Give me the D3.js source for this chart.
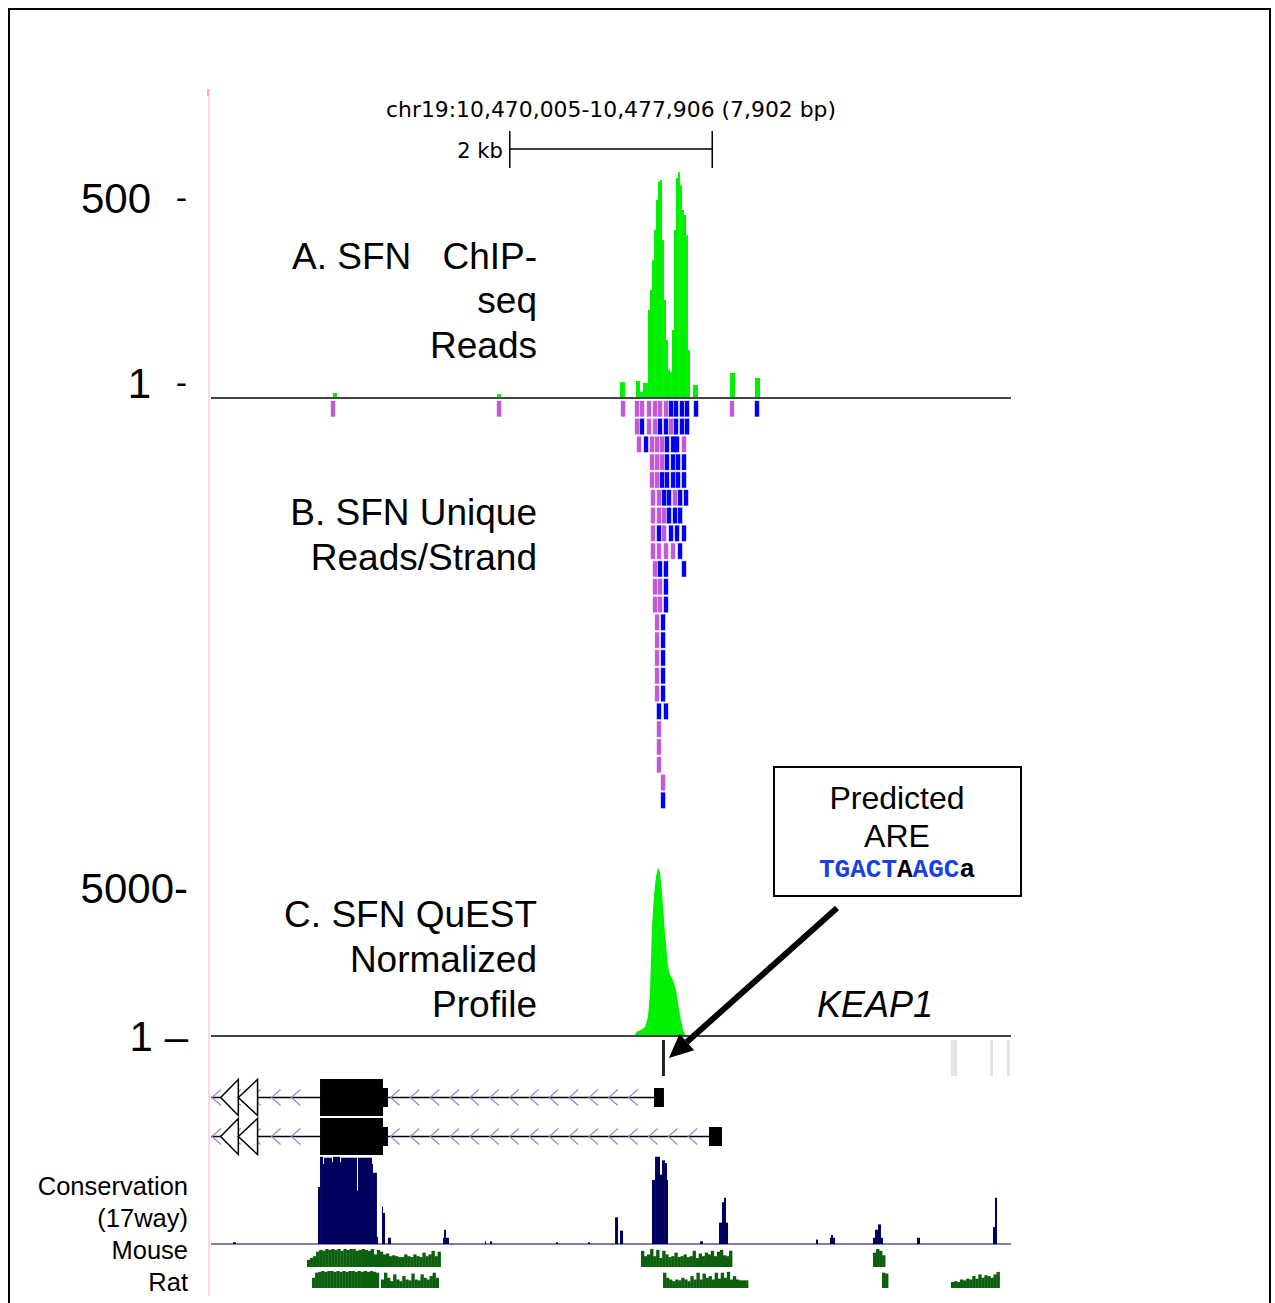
<!DOCTYPE html>
<html>
<head>
<meta charset="utf-8">
<script src="https://cdn.jsdelivr.net/npm/d3@7"></script>
<style>
  body { margin: 0; background: #fff; }
  text { font-family: "Liberation Sans", Arial, sans-serif; fill: #000; }
</style>
</head>
<body>
<svg id="chart" width="1275" height="1303"></svg>
<script>
// browser window chr19:10,470,005-10,477,906; all positions are bp offsets from the window start
const winStart = 10470005, winEnd = 10477906;

// A. ChIP-seq read coverage: [start, end, reads]
const chipCoverage = [
  [1205, 1245, 13], [2825, 2864, 10], [4040, 4089, 41], [4198, 4237, 44], [4237, 4267, 16],
  [4267, 4316, 39], [4316, 4336, 228], [4336, 4356, 280], [4356, 4376, 357], [4376, 4395, 435],
  [4395, 4415, 513], [4415, 4435, 560], [4435, 4455, 565], [4455, 4474, 409], [4474, 4494, 254],
  [4494, 4514, 150], [4514, 4534, 73], [4534, 4553, 67], [4553, 4573, 176], [4573, 4593, 435],
  [4593, 4613, 570], [4613, 4632, 585], [4632, 4652, 551], [4652, 4672, 487], [4672, 4692, 474],
  [4692, 4711, 422], [4711, 4731, 124], [4761, 4810, 34], [5126, 5176, 65], [5373, 5423, 52]
];
const chipTicks = [500, 1];
const chipTickLabels = ["500", "1"];

// B. unique reads per strand, one list per pileup row: [start, strand]
const readLength = 40;
const readRows = [
  [[1185,"-"],[2825,"-"],[4050,"-"],[4188,"-"],[4237,"-"],[4307,"-"],[4366,"-"],[4415,"-"],[4474,"-"],[4524,"+"],[4573,"+"],[4632,"+"],[4682,"+"],[4771,"+"],[5126,"-"],[5373,"+"]],
  [[4188,"-"],[4237,"+"],[4307,"-"],[4366,"-"],[4415,"+"],[4474,"+"],[4524,"-"],[4573,"+"],[4632,"+"],[4682,"+"]],
  [[4208,"-"],[4277,"+"],[4336,"-"],[4386,"-"],[4435,"-"],[4484,"+"],[4544,"+"],[4583,"+"],[4652,"-"]],
  [[4336,"-"],[4386,"-"],[4435,"-"],[4484,"+"],[4544,"+"],[4593,"+"],[4652,"+"]],
  [[4336,"-"],[4386,"-"],[4435,"+"],[4484,"+"],[4544,"+"],[4593,"+"],[4652,"+"]],
  [[4346,"-"],[4405,"-"],[4455,"+"],[4504,"+"],[4563,"-"],[4613,"+"],[4672,"+"]],
  [[4346,"-"],[4405,"-"],[4455,"-"],[4504,"+"],[4563,"+"],[4613,"+"]],
  [[4346,"-"],[4405,"+"],[4455,"-"],[4524,"+"],[4583,"+"],[4652,"+"]],
  [[4346,"-"],[4405,"-"],[4474,"-"],[4544,"-"],[4613,"+"]],
  [[4366,"-"],[4415,"+"],[4474,"+"],[4652,"+"]],
  [[4366,"-"],[4415,"-"],[4474,"+"]],
  [[4366,"-"],[4415,"-"],[4474,"+"]],
  [[4386,"-"],[4445,"+"]],
  [[4386,"-"],[4445,"+"]],
  [[4386,"-"],[4445,"+"]],
  [[4386,"-"],[4445,"+"]],
  [[4386,"-"],[4445,"+"]],
  [[4405,"+"],[4474,"+"]],
  [[4405,"-"]],
  [[4405,"-"]],
  [[4405,"-"]],
  [[4445,"-"]],
  [[4445,"+"]]
];

// C. QuEST normalized profile: [position, value]
const questProfile = [
  [4178, 0], [4208, 150], [4247, 200], [4287, 300], [4316, 640], [4336, 1450], [4356, 3690],
  [4376, 4770], [4395, 5380], [4415, 5680], [4435, 5540], [4455, 4830], [4484, 3480],
  [4514, 2330], [4534, 2060], [4563, 1890], [4593, 1550], [4613, 1115], [4632, 710],
  [4662, 200], [4692, 0]
];
const questTicks = [5000, 1];
const questTickLabels = ["5000-", "1 \u2013"];

// features above the gene (ARE site and others)
const siteFeatures = [
  { start: 4455, end: 4484, kind: "ARE" },
  { start: 7309, end: 7369, kind: "other" },
  { start: 7695, end: 7724, kind: "other" },
  { start: 7862, end: 7892, kind: "other" }
];

// KEAP1 transcripts (minus strand), both run off the left edge
const transcripts = [
  { start: -400, end: 4474, exons: [[1077, 1699, "cds"], [1699, 1748, "utr"], [4376, 4474, "utr"]] },
  { start: -400, end: 5047, exons: [[1077, 1699, "cds"], [1699, 1748, "utr"], [4919, 5047, "utr"]] }
];

// Conservation (17way): [start, end, score 0-1]
const conservation = [
  [217,247,.02],[1057,1077,.64],[1077,1106,.98],[1106,1116,.9],[1116,1195,.97],[1195,1205,.92],
  [1205,1274,.98],[1274,1284,.92],[1284,1442,.97],[1442,1452,.6],[1452,1590,.97],[1590,1600,.9],
  [1600,1639,.8],[1639,1650,.08],[1689,1699,.42],[1699,1719,.35],[1748,1778,.07],[2292,2302,.07],
  [2302,2321,.16],[2321,2351,.07],[2706,2716,.03],[2756,2776,.03],[3408,3427,.02],[3724,3744,.02],
  [3991,4020,.3],[4040,4070,.15],[4356,4386,.72],[4386,4435,.98],[4435,4455,.78],[4455,4484,.94],
  [4484,4504,.91],[4504,4514,.72],[4830,4860,.03],[5018,5047,.24],[5047,5067,.47],[5067,5087,.52],
  [5087,5107,.24],[5976,5996,.05],[6114,6124,.07],[6124,6144,.1],[6144,6164,.07],[6539,6559,.07],
  [6559,6588,.16],[6588,6618,.22],[6618,6638,.07],[6973,7003,.07],[7724,7744,.19],[7744,7764,.52]
];

// Mouse / Rat alignment blocks: start, then per-30bp scores
const binSize = 30;
const mouseBlocks = [
  { start: 948, scores: [.4,.5,.6,.85,.95,.9,1,.95,1,.95,1,.9,1,.95,1,1,.9,.95,1,.95,.9,1,.7,.95,.85,.7,.75,.6,.65,.6,.55,.55,.7,.6,.55,.7,.6,.55,.8,.6,.7,.9,.6,.85] },
  { start: 4247, scores: [.9,.6,.7,1,.6,.95,.5,.9,.7,.55,.6,.8,.55,.6,.7,.55,.6,.9,.5,.75,.6,.8,.7,.9,.6,.85,.95,.65,.6,.9] },
  { start: 6539, scores: [.8,1,.9,.65] }
];
const ratBlocks = [
  { start: 998, scores: [.6,.9,.95,1,.95,1,1,.95,1,.95,1,.95,1,1,.95,1,.95,1,.95,1,.95,.9] },
  { start: 1679, scores: [.5,.9,.6,.4,.8,.5,.4,.7,.5,.45,.85,.5,.45,.8,.6,.5,.7,.9,.6] },
  { start: 4465, scores: [.9,.6,.5,.4,.5,.45,.6,.5,.4,.7,.5,.9,.5,.85,.6,.7,.5,.9,.55,.9,.6,.95,.5,.7,.5,.45,.45,.45] },
  { start: 6628, scores: [.9,.85] },
  { start: 7309, scores: [.35,.4,.35,.5,.45,.55,.5,.7,.55,.8,.6,.75,.7,.6,.8,.95] }
];

const fmt = d3.format(",");
const svg = d3.select("#chart");

const x = d3.scaleLinear().domain([0, winEnd - winStart + 1]).range([211, 1011]);
const yA = d3.scaleLinear().domain([0, 500]).range([398, 205]);
const yALabel = d3.scaleLinear().domain([1, 500]).range([398, 213]);
const yC = d3.scaleLinear().domain([0, 5000]).range([1036, 888]);
const yCLabel = d3.scaleLinear().domain([1, 5000]).range([1051, 903]);
const yRow = d3.scaleBand().domain(d3.range(readRows.length)).range([401, 401 + readRows.length * 17.7]).paddingInner(0.13);
const yTx = d3.scaleBand().domain(d3.range(transcripts.length)).range([1078, 1156]);
const yCons = d3.scaleLinear().domain([0, 1]).range([1244, 1155]);
const yMouse = d3.scaleLinear().domain([0, 1]).range([1267, 1249]);
const yRat = d3.scaleLinear().domain([0, 1]).range([1288, 1271]);

svg.append("defs").append("clipPath").attr("id", "win")
  .append("rect").attr("x", x(0)).attr("y", 0).attr("width", x.range()[1] - x(0)).attr("height", 1303);

// frame
svg.append("rect").attr("x", 9).attr("y", 9).attr("width", 1261).attr("height", 1310)
  .attr("fill", "none").attr("stroke", "#000").attr("stroke-width", 2);

// browser left edge
svg.append("line").attr("x1", 209).attr("x2", 209).attr("y1", 89).attr("y2", 1296)
  .attr("stroke", "#ffcccc").attr("stroke-width", 1.5);
svg.append("rect").attr("x", 207).attr("y", 89).attr("width", 2).attr("height", 7).attr("fill", "#ffb0b0");

// position header and scale bar
const mid = (winEnd - winStart + 1) / 2;
svg.append("text").attr("x", x(mid)).attr("y", 117).attr("text-anchor", "middle")
  .style("font-family", "'DejaVu Sans', sans-serif").attr("font-size", 21)
  .attr("textLength", 450).attr("lengthAdjust", "spacingAndGlyphs")
  .text(`chr19:${fmt(winStart)}-${fmt(winEnd)} (${fmt(winEnd - winStart + 1)} bp)`);
const bar = svg.append("g").attr("stroke", "#000").attr("stroke-width", 1.5);
bar.append("line").attr("x1", x(mid - 1000)).attr("x2", x(mid + 1000)).attr("y1", 149).attr("y2", 149);
bar.append("line").attr("x1", x(mid - 1000)).attr("x2", x(mid - 1000)).attr("y1", 131).attr("y2", 168);
bar.append("line").attr("x1", x(mid + 1000)).attr("x2", x(mid + 1000)).attr("y1", 131).attr("y2", 168);
svg.append("text").attr("x", x(mid - 1000) - 7).attr("y", 158).attr("text-anchor", "end")
  .style("font-family", "'DejaVu Sans', sans-serif").attr("font-size", 21).text("2 kb");

const plot = svg.append("g").attr("clip-path", "url(#win)");

// A. ChIP-seq coverage
plot.append("g").selectAll("rect").data(chipCoverage).join("rect")
  .attr("x", d => x(d[0])).attr("width", d => x(d[1]) - x(d[0]))
  .attr("y", d => yA(d[2])).attr("height", d => yA(0) - yA(d[2]))
  .attr("fill", "#00f000");
svg.append("line").attr("x1", x(0)).attr("x2", x.range()[1]).attr("y1", yA(0)).attr("y2", yA(0))
  .attr("stroke", "#444").attr("stroke-width", 2);

svg.append("g").selectAll("text").data(chipTicks).join("text")
  .attr("x", 151).attr("y", d => yALabel(d)).attr("text-anchor", "end")
  .attr("font-size", 42)
  .text((d, i) => chipTickLabels[i]);
svg.append("g").selectAll("text").data(chipTicks).join("text")
  .attr("x", 187).attr("y", d => yALabel(d) - 4).attr("text-anchor", "end")
  .attr("font-size", 34).text("-");

// B. reads
const strandColor = { "+": "#0000f0", "-": "#c25ad8" };
plot.append("g").selectAll("g").data(readRows).join("g")
  .attr("transform", (row, i) => `translate(0,${yRow(i)})`)
  .selectAll("rect").data(row => row).join("rect")
  .attr("x", d => x(d[0])).attr("width", d => x(d[0] + readLength) - x(d[0]))
  .attr("y", 0).attr("height", yRow.bandwidth())
  .attr("fill", d => strandColor[d[1]])
  .attr("stroke", d => strandColor[d[1]]).attr("stroke-opacity", 0.35).attr("stroke-width", 1);

// C. QuEST profile
plot.append("path").datum(questProfile)
  .attr("d", d3.area().x(d => x(d[0])).y0(yC(0)).y1(d => yC(d[1])))
  .attr("fill", "#00f000");
svg.append("line").attr("x1", x(0)).attr("x2", x.range()[1]).attr("y1", yC(0)).attr("y2", yC(0))
  .attr("stroke", "#444").attr("stroke-width", 2);
svg.append("g").selectAll("text").data(questTicks).join("text")
  .attr("x", 188).attr("y", d => yCLabel(d)).attr("text-anchor", "end")
  .attr("font-size", 42).style("white-space", "pre")
  .text((d, i) => questTickLabels[i]);

// site features
plot.append("g").selectAll("rect").data(siteFeatures).join("rect")
  .attr("x", d => x(d.start)).attr("width", d => x(d.end) - x(d.start))
  .attr("y", 1040).attr("height", 36)
  .attr("fill", d => d.kind === "ARE" ? "#222" : "#e4e4e4");

// KEAP1 gene models
const tx = plot.append("g");
transcripts.forEach((t, i) => {
  const cy = yTx(i) + yTx.bandwidth() / 2;
  const g = tx.append("g");
  g.append("line").attr("x1", x(t.start)).attr("x2", x(t.end)).attr("y1", cy).attr("y2", cy)
    .attr("stroke", "#000").attr("stroke-width", 1.5);
  const chev = d3.range(10, t.end, 196).filter(p => p > 0 && p + 60 < t.end &&
    !t.exons.some(e => p + 90 > e[0] && p < e[1]));
  g.selectAll("path.chev").data(chev).join("path").attr("class", "chev")
    .attr("d", p => `M${x(p) + 9},${cy - 8}L${x(p)},${cy}L${x(p) + 9},${cy + 8}`)
    .attr("fill", "none").attr("stroke", "#8c8cd0").attr("stroke-width", 1.2);
  g.selectAll("rect").data(t.exons).join("rect")
    .attr("x", e => x(e[0])).attr("width", e => x(e[1]) - x(e[0]))
    .attr("y", e => e[2] === "cds" ? cy - 18.5 : cy - 9.5)
    .attr("height", e => e[2] === "cds" ? 37 : 19)
    .attr("fill", "#000");
  // continuation markers at the left edge
  [[95, 270], [270, 460]].forEach(([a, b]) => {
    g.append("path")
      .attr("d", `M${x(a)},${cy}L${x(b)},${cy - 18}L${x(b)},${cy + 18}Z`)
      .attr("fill", "#fff").attr("stroke", "#000").attr("stroke-width", 1.5);
  });
});

// conservation
plot.append("g").selectAll("rect").data(conservation).join("rect")
  .attr("x", d => x(d[0])).attr("width", d => x(d[1]) - x(d[0]))
  .attr("y", d => yCons(d[2])).attr("height", d => yCons(0) - yCons(d[2]))
  .attr("fill", "#00005e");
svg.append("line").attr("x1", x(0)).attr("x2", x.range()[1]).attr("y1", yCons(0)).attr("y2", yCons(0))
  .attr("stroke", "#00005e").attr("stroke-width", 1.2);

function drawBlocks(blocks, y) {
  const bins = blocks.flatMap(b => b.scores.map((s, i) => [b.start + i * binSize, s]));
  plot.append("g").selectAll("rect").data(bins).join("rect")
    .attr("x", d => x(d[0])).attr("width", d => x(d[0] + binSize) - x(d[0]) + 0.3)
    .attr("y", d => y(d[1])).attr("height", d => y(0) - y(d[1]))
    .attr("fill", "#0c5f0c");
}
drawBlocks(mouseBlocks, yMouse);
drawBlocks(ratBlocks, yRat);

// track labels
const labels = [
  { lines: ["seq", "Reads"], y: 313, size: 37 },
  { lines: ["B. SFN Unique", "Reads/Strand"], y: 525, size: 37 },
  { lines: ["C. SFN QuEST", "Normalized", "Profile"], y: 927, size: 37 }
];
svg.append("text").attr("x", 292).attr("y", 269).attr("font-size", 37).text("A. SFN");
svg.append("text").attr("x", 537).attr("y", 269).attr("text-anchor", "end").attr("font-size", 37).text("ChIP-");
labels.forEach(l => {
  l.lines.forEach((s, i) => {
    svg.append("text").attr("x", 537).attr("y", l.y + i * 45).attr("text-anchor", "end")
      .attr("font-size", l.size).text(s);
  });
});
["Conservation", "(17way)", "Mouse", "Rat"].forEach((s, i) => {
  svg.append("text").attr("x", 188).attr("y", 1195 + i * 32).attr("text-anchor", "end")
    .attr("font-size", 25.5).text(s);
});

svg.append("text").attr("x", 817).attr("y", 1017).attr("font-size", 36)
  .attr("font-style", "italic").text("KEAP1");

// predicted ARE callout
svg.append("rect").attr("x", 774).attr("y", 767).attr("width", 247).attr("height", 129)
  .attr("fill", "#fff").attr("stroke", "#000").attr("stroke-width", 2);
svg.append("text").attr("x", 897).attr("y", 809).attr("text-anchor", "middle").attr("font-size", 32).text("Predicted");
svg.append("text").attr("x", 897).attr("y", 847).attr("text-anchor", "middle").attr("font-size", 32).text("ARE");
const motif = [["TGACT", "#1a3fe0"], ["A", "#000"], ["AGC", "#1a3fe0"], ["a", "#000"]];
const mt = svg.append("text").attr("x", 897).attr("y", 877).attr("text-anchor", "middle")
  .style("font-family", "'Liberation Mono', 'Courier New', monospace")
  .attr("font-size", 26).attr("font-weight", "bold");
motif.forEach(([s, c]) => mt.append("tspan").style("fill", c).text(s));

// arrow to the ARE site
const tipX = x(siteFeatures[0].end) + 4, tipY = 1058;
const fromX = 837, fromY = 908;
const ang = Math.atan2(tipY - fromY, tipX - fromX);
const headL = 24, headW = 11;
const bx = tipX - headL * Math.cos(ang), by = tipY - headL * Math.sin(ang);
svg.append("line").attr("x1", fromX).attr("y1", fromY).attr("x2", bx).attr("y2", by)
  .attr("stroke", "#000").attr("stroke-width", 6);
svg.append("path")
  .attr("d", `M${tipX},${tipY}L${bx + headW * Math.sin(ang)},${by - headW * Math.cos(ang)}L${bx - headW * Math.sin(ang)},${by + headW * Math.cos(ang)}Z`)
  .attr("fill", "#000");
</script>
</body>
</html>
